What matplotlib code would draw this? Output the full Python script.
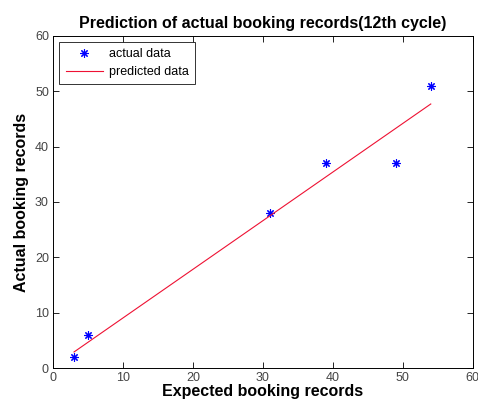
import matplotlib
matplotlib.use("Agg")
import matplotlib.pyplot as plt

plt.rcParams['font.family'] = ['Liberation Sans', 'DejaVu Sans']

expected = [3, 5, 31, 39, 49, 54]
actual = [2, 6, 28, 37, 37, 51]
pred_x = [3, 54]
pred_y = [2.9, 47.7]
xticks = [0, 10, 20, 30, 40, 50, 60]
yticks = [0, 10, 20, 30, 40, 50, 60]

fig = plt.figure(figsize=(4.78, 4.08), dpi=100)
ax = fig.add_axes([0.111, 0.098, 0.878, 0.814])

ax.plot(expected, actual, linestyle='none', marker=(8, 2, 0), color='#0000ff',
        markersize=6, markeredgewidth=0.8, label='actual data')
ax.plot(pred_x, pred_y, color='#ee1133', linewidth=0.8, label='predicted data')

ax.set_xlim(0, 60)
ax.set_ylim(0, 60)
ax.set_xticks(xticks)
ax.set_yticks(yticks)
ax.tick_params(direction='in', top=True, right=True, labelsize=9, length=4,
               labelcolor='#444444', width=0.6, pad=3)
for s in ax.spines.values():
    s.set_linewidth(0.7)

ax.set_title('Prediction of actual booking records(12th cycle)', fontsize=11.5,
             fontweight='bold', pad=6)
ax.set_xlabel('Expected booking records', fontsize=11.5, fontweight='bold', labelpad=0)
ax.set_ylabel('Actual booking records', fontsize=11.5, fontweight='bold', labelpad=4)

leg = ax.legend(loc='upper left', fontsize=9, frameon=True, fancybox=False,
                edgecolor='black', borderaxespad=0.5, handlelength=3.0,
                handletextpad=0.5, borderpad=0.5, labelspacing=0.45)
leg.get_frame().set_linewidth(0.7)

fig.savefig('out.png', dpi=100)
